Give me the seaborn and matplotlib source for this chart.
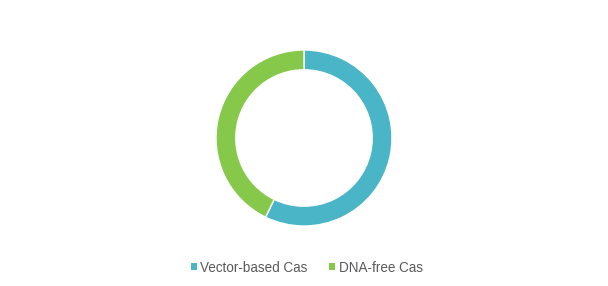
import matplotlib
matplotlib.use("Agg")
import matplotlib.pyplot as plt
import seaborn as sns
from matplotlib.patches import Patch

labels = ["Vector-based Cas", "DNA-free Cas"]
values = [57.2, 42.8]
colors = ["#4BB5C8", "#86C94A"]

sns.set_theme(style="white")
plt.rcParams['font.family'] = ['Liberation Sans', 'DejaVu Sans']

W, H = 608, 286
fig = plt.figure(figsize=(W / 100, H / 100), dpi=100)
cx, cy, r = 304, 138, 88
ax = fig.add_axes([(cx - r) / W, (H - cy - r) / H, 2 * r / W, 2 * r / H])
ax.pie(values, colors=colors, startangle=90, counterclock=False, radius=1,
       wedgeprops=dict(width=0.225, edgecolor="white", linewidth=1))
ax.set_xlim(-1, 1)
ax.set_ylim(-1, 1)
ax.set_aspect("equal")
ax.axis("off")

handles = [Patch(facecolor=c, edgecolor="none") for c in colors]
fig.legend(handles, labels, loc="center", bbox_to_anchor=(306.5 / W, 1 - 267.5 / H),
           ncol=2, frameon=False, fontsize=9.75, handlelength=0.45, handleheight=0.45,
           handletextpad=0.25, columnspacing=1.6, labelcolor="#595959",
           borderpad=0, borderaxespad=0)

fig.savefig("out.png", dpi=100, facecolor="white")
